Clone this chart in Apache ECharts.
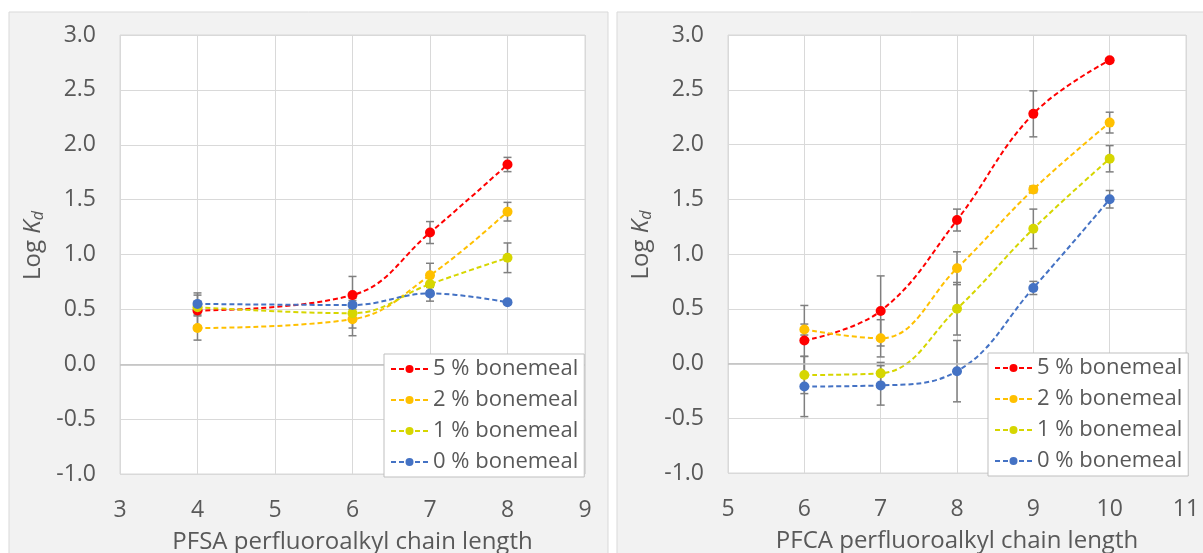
<!DOCTYPE html>
<html>
<head>
<meta charset="utf-8">
<script src="https://cdn.jsdelivr.net/npm/echarts@6/dist/echarts.min.js"></script>
<style>
  html, body { margin: 0; padding: 0; background: #fff; }
  #chart { width: 1203px; height: 553px; }
</style>
</head>
<body>
<div id="chart"></div>
<script>
// Sorption (log Kd) of perfluoroalkyl acids vs. chain length at four bonemeal doses

const seriesNames = ['5 % bonemeal', '2 % bonemeal', '1 % bonemeal', '0 % bonemeal'];
const seriesColors = ['#ff0000', '#ffc000', '#d6d600', '#4472c4'];

// PFSA panel
const pfsaChain = [4, 6, 7, 8];
const pfsa5 = [0.49, 0.63, 1.20, 1.82];
const pfsa2 = [0.33, 0.41, 0.81, 1.39];
const pfsa1 = [0.52, 0.465, 0.73, 0.97];
const pfsa0 = [0.55, 0.54, 0.645, 0.565];
const pfsa5Err = [0.14, 0.17, 0.10, 0.065];
const pfsa2Err = [0.11, 0.15, 0.11, 0.085];
const pfsa1Err = [0.05, 0.135, 0.06, 0.135];
const pfsa0Err = [0.10, 0.04, 0.07, 0.02];

// PFCA panel
const pfcaChain = [6, 7, 8, 9, 10];
const pfca5 = [0.21, 0.48, 1.31, 2.28, 2.77];
const pfca2 = [0.31, 0.23, 0.87, 1.59, 2.20];
const pfca1 = [-0.105, -0.09, 0.50, 1.23, 1.87];
const pfca0 = [-0.21, -0.20, -0.07, 0.69, 1.50];
const pfca5Err = [0.32, 0.32, 0.10, 0.21, 0.02];
const pfca2Err = [0.05, 0.17, 0.15, 0.03, 0.095];
const pfca1Err = [0.17, 0.10, 0.24, 0.18, 0.12];
const pfca0Err = [0.275, 0.18, 0.28, 0.06, 0.08];

const xTitles = ['PFSA perfluoroalkyl chain length', 'PFCA perfluoroalkyl chain length'];
const yTitle = '{n|Log }{k|K}{s|d}';

const FONT = '"Open Sans", "Noto Sans", sans-serif';
const TEXT = '#595959';
const GRIDLINE = '#d9d9d9';

function lineSeries(name, color, xs, ys, idx, withZero) {
  const s = {
    name: name,
    type: 'line',
    xAxisIndex: idx,
    yAxisIndex: idx,
    data: xs.map((x, i) => [x, ys[i]]),
    smooth: 0.4,
    symbol: 'circle',
    symbolSize: 10,
    itemStyle: { color: color },
    lineStyle: { color: color, width: 2, type: [5, 3] },
    z: 3
  };
  if (withZero) {
    s.markLine = {
      silent: true,
      symbol: 'none',
      label: { show: false },
      lineStyle: { color: '#bfbfbf', type: 'solid', width: 1.5 },
      data: [{ yAxis: 0 }]
    };
  }
  return s;
}

function errorSeries(xs, ys, es, idx) {
  return {
    type: 'custom',
    xAxisIndex: idx,
    yAxisIndex: idx,
    silent: true,
    z: 2,
    data: xs.map((x, i) => [x, ys[i], es[i]]),
    encode: { x: 0, y: 1 },
    renderItem: function (params, api) {
      const x = api.value(0), y = api.value(1), e = api.value(2);
      const top = api.coord([x, y + e]);
      const bot = api.coord([x, y - e]);
      const hw = 4;
      const st = { stroke: '#7f7f7f', lineWidth: 1.5 };
      return {
        type: 'group',
        children: [
          { type: 'line', shape: { x1: top[0], y1: top[1], x2: bot[0], y2: bot[1] }, style: st },
          { type: 'line', shape: { x1: top[0] - hw, y1: top[1], x2: top[0] + hw, y2: top[1] }, style: st },
          { type: 'line', shape: { x1: bot[0] - hw, y1: bot[1], x2: bot[0] + hw, y2: bot[1] }, style: st }
        ]
      };
    }
  };
}

function xAxis(idx, min, max, title) {
  return {
    gridIndex: idx, type: 'value', min: min, max: max, interval: 1,
    axisLine: { show: false }, axisTick: { show: false },
    axisLabel: { fontSize: 23, color: TEXT, fontFamily: FONT, margin: 25 },
    splitLine: { lineStyle: { color: GRIDLINE, width: 1 } },
    name: title, nameLocation: 'middle', nameGap: 56,
    nameTextStyle: { fontSize: 24, color: TEXT, fontFamily: FONT }
  };
}

function yAxis(idx) {
  return {
    gridIndex: idx, type: 'value', min: -1, max: 3, interval: 0.5,
    axisLine: { show: false }, axisTick: { show: false },
    axisLabel: { fontSize: 23, color: TEXT, fontFamily: FONT, margin: 24,
                 formatter: v => v.toFixed(1) },
    splitLine: { lineStyle: { color: GRIDLINE, width: 1 } },
    name: yTitle, nameLocation: 'middle', nameGap: 74, nameRotate: 90,
    nameTextStyle: {
      color: TEXT, fontFamily: FONT, fontSize: 24, padding: [0, 0, 0, 18],
      rich: {
        n: { fontSize: 24, color: TEXT, fontFamily: FONT },
        k: { fontSize: 24, color: TEXT, fontFamily: FONT, fontStyle: 'italic' },
        s: { fontSize: 16, color: TEXT, fontFamily: FONT, fontStyle: 'italic', padding: [10, 0, 0, 0] }
      }
    }
  };
}

function legend(left, top) {
  return {
    data: seriesNames,
    orient: 'vertical',
    left: left, top: top,
    z: 20,
    backgroundColor: '#ffffff',
    borderColor: '#bfbfbf',
    borderWidth: 1,
    padding: [4, 6, 4, 6],
    itemGap: 9,
    itemWidth: 37,
    itemHeight: 10,
    textStyle: { fontSize: 22, color: TEXT, fontFamily: FONT, lineHeight: 22 }
  };
}

const pfsaSets = [[pfsa5, pfsa5Err], [pfsa2, pfsa2Err], [pfsa1, pfsa1Err], [pfsa0, pfsa0Err]];
const pfcaSets = [[pfca5, pfca5Err], [pfca2, pfca2Err], [pfca1, pfca1Err], [pfca0, pfca0Err]];

const series = [];
pfsaSets.forEach(s => series.push(errorSeries(pfsaChain, s[0], s[1], 0)));
pfcaSets.forEach(s => series.push(errorSeries(pfcaChain, s[0], s[1], 1)));
pfsaSets.forEach((s, i) => series.push(lineSeries(seriesNames[i], seriesColors[i], pfsaChain, s[0], 0, i === 0)));
pfcaSets.forEach((s, i) => series.push(lineSeries(seriesNames[i], seriesColors[i], pfcaChain, s[0], 1, i === 0)));

const chart = echarts.init(document.getElementById('chart'), null, { renderer: 'canvas' });
chart.setOption({
  backgroundColor: '#ffffff',
  animation: false,
  graphic: {
    elements: [
      { type: 'rect', z: -10, silent: true, shape: { x: 9, y: 12, width: 599, height: 560 },
        style: { fill: '#f2f2f2', stroke: '#d9d9d9', lineWidth: 1 } },
      { type: 'rect', z: -10, silent: true, shape: { x: 617, y: 12, width: 600, height: 560 },
        style: { fill: '#f2f2f2', stroke: '#d9d9d9', lineWidth: 1 } }
    ]
  },
  grid: [
    { left: 120, top: 35, width: 465, height: 439, show: true, backgroundColor: '#ffffff',
      borderColor: GRIDLINE, borderWidth: 1, containLabel: false, outerBoundsMode: 'none' },
    { left: 728, top: 35, width: 458, height: 438, show: true, backgroundColor: '#ffffff',
      borderColor: GRIDLINE, borderWidth: 1, containLabel: false, outerBoundsMode: 'none' }
  ],
  xAxis: [xAxis(0, 3, 9, xTitles[0]), xAxis(1, 5, 11, xTitles[1])],
  yAxis: [yAxis(0), yAxis(1)],
  legend: [legend(384, 354), legend(988, 353)],
  series: series
});
</script>
</body>
</html>
